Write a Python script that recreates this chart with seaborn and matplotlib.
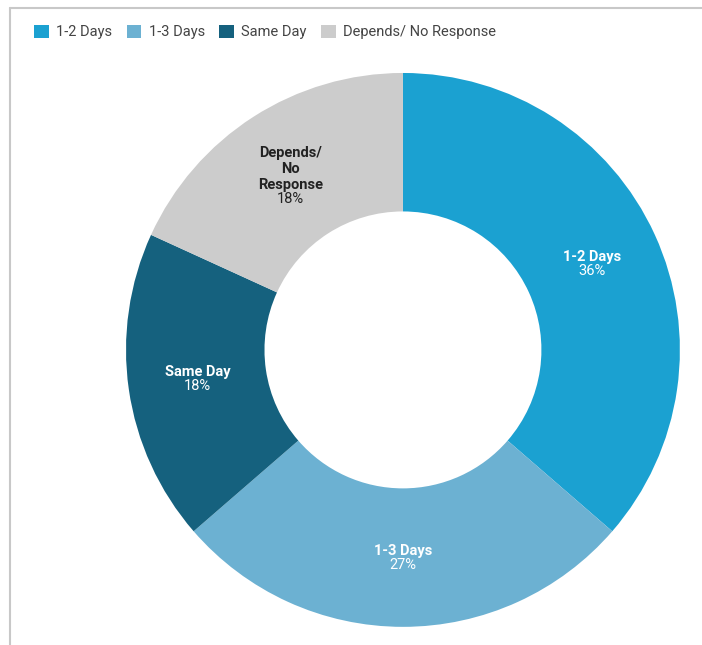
import numpy as np
import seaborn as sns
import matplotlib.pyplot as plt
from matplotlib.patches import Patch
from matplotlib.lines import Line2D

categories = ['1-2 Days', '1-3 Days', 'Same Day', 'Depends/ No Response']
wedge_labels = ['1-2 Days', '1-3 Days', 'Same Day', 'Depends/\nNo\nResponse']
shares = [36, 27, 18, 18]
colors = ['#1ba1d1', '#6cb1d2', '#15617e', '#cccccc']
text_colors = ['white', 'white', 'white', '#222222']

sns.set_theme(style='white')
plt.rcParams['font.family'] = ['Roboto', 'DejaVu Sans']

fig = plt.figure(figsize=(7.02, 6.45), dpi=100)
ax = fig.add_axes([0.1795, 0.028, 0.789, 0.859])

wedges, _ = ax.pie(shares, colors=sns.color_palette(colors), startangle=90,
                   counterclock=False, radius=1,
                   wedgeprops=dict(width=0.5, linewidth=0))
ax.set_aspect('equal')
ax.set_xlim(-1, 1)
ax.set_ylim(-1, 1)

# line height in data units (~17px on a 277px radius)
h = 17 / 277
total = sum(shares)
for w, name, val, tc in zip(wedges, wedge_labels, shares, text_colors):
    ang = np.deg2rad((w.theta1 + w.theta2) / 2)
    x, y = 0.75 * np.cos(ang), 0.75 * np.sin(ang)
    n = name.count('\n') + 1
    anchor = y - (n - 1) * h / 2
    ax.text(x, anchor, name, ha='center', va='bottom', fontsize=10.5,
            fontweight='bold', color=tc, linespacing=1.2)
    ax.text(x, anchor, f'{val / total * 100:.0f}%', ha='center', va='top',
            fontsize=10.5, color=tc)

handles = [Patch(facecolor=c, edgecolor='none') for c in colors]
fig.legend(handles, categories, loc='upper left', bbox_to_anchor=(0.03, 0.982),
           ncol=4, frameon=False, fontsize=10.5, handlelength=1.0, handleheight=1.0,
           handletextpad=0.5, columnspacing=1.0, labelcolor='#444444')

fig.add_artist(Line2D([10 / 702, 1], [1 - 8 / 645, 1 - 8 / 645],
                      transform=fig.transFigure, color='#c8c8c8', lw=1.5))
fig.add_artist(Line2D([10 / 702, 10 / 702], [0, 1 - 8 / 645],
                      transform=fig.transFigure, color='#c8c8c8', lw=1.5))

fig.savefig('out.png', dpi=100)
